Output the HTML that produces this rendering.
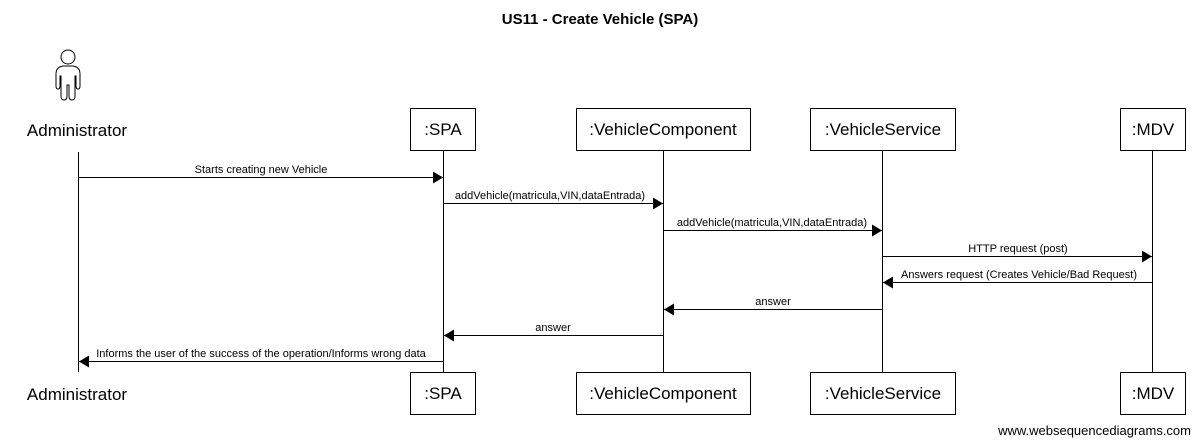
<!DOCTYPE html>
<html><head><meta charset="utf-8"><style>body{margin:0;background:#fff}svg{display:block}</style></head>
<body>
<svg width="1200" height="444" viewBox="0 0 1200 444" xmlns="http://www.w3.org/2000/svg" font-family="Liberation Sans, Arial, sans-serif">
<defs><marker id="a" markerWidth="10" markerHeight="12" refX="10" refY="6" orient="auto" markerUnits="userSpaceOnUse"><path d="M0,0 L10,6 L0,12 z" fill="#000"/></marker></defs>
<text x="600" y="24" text-anchor="middle" font-weight="bold" font-size="15">US11 - Create Vehicle (SPA)</text>
<!-- actor -->
<g fill="none" stroke="#000" stroke-width="1" transform="translate(0,-10)">
<circle cx="68" cy="67" r="7"/>
<path d="M63,76 L73,76 Q80,77 80,84 L80,96 Q80,99 78,99 Q76,99 76,96 L76,86 L75,86 L75,106 Q75,110 72,110 Q69,110 69,106 L69,95 L67,95 L67,106 Q67,110 64,110 Q61,110 61,106 L61,86 L60,86 L60,96 Q60,99 58,99 Q56,99 56,96 L56,84 Q56,77 63,76 z"/>
</g>
<text x="77" y="136" text-anchor="middle" font-size="17">Administrator</text>
<text x="77" y="400" text-anchor="middle" font-size="17">Administrator</text>
<!-- lifelines -->
<g stroke="#000" stroke-width="1">
<line x1="78.5" y1="152" x2="78.5" y2="372"/>
<line x1="443.5" y1="151" x2="443.5" y2="372"/>
<line x1="663.5" y1="151" x2="663.5" y2="372"/>
<line x1="882.5" y1="151" x2="882.5" y2="372"/>
<line x1="1152.5" y1="151" x2="1152.5" y2="372"/>
</g>
<!-- boxes -->
<g fill="#fff" stroke="#000" stroke-width="1">
<rect x="410.5" y="108.5" width="65" height="42"/>
<rect x="576.5" y="108.5" width="174" height="42"/>
<rect x="810.5" y="108.5" width="145" height="42"/>
<rect x="1120.5" y="108.5" width="65" height="42"/>
<rect x="410.5" y="372.5" width="65" height="42"/>
<rect x="576.5" y="372.5" width="174" height="42"/>
<rect x="810.5" y="372.5" width="145" height="42"/>
<rect x="1120.5" y="372.5" width="65" height="42"/>
</g>
<g font-size="17" text-anchor="middle">
<text x="443" y="135">:SPA</text><text x="663" y="135">:VehicleComponent</text><text x="883" y="135">:VehicleService</text><text x="1153" y="135">:MDV</text>
<text x="443" y="399">:SPA</text><text x="663" y="399">:VehicleComponent</text><text x="883" y="399">:VehicleService</text><text x="1153" y="399">:MDV</text>
</g>
<!-- messages -->
<g stroke="#000" stroke-width="1" marker-end="url(#a)">
<line x1="79" y1="177.5" x2="443" y2="177.5"/>
<line x1="444" y1="203.5" x2="663" y2="203.5"/>
<line x1="664" y1="230.5" x2="882" y2="230.5"/>
<line x1="883" y1="256.5" x2="1152" y2="256.5"/>
<line x1="1152" y1="282.5" x2="883" y2="282.5"/>
<line x1="882" y1="309.5" x2="664" y2="309.5"/>
<line x1="663" y1="335.5" x2="444" y2="335.5"/>
<line x1="443" y1="361.5" x2="79" y2="361.5"/>
</g>
<g font-size="11" text-anchor="middle">
<text x="261" y="173">Starts creating new Vehicle</text>
<text x="550" y="199">addVehicle(matricula,VIN,dataEntrada)</text>
<text x="772" y="226">addVehicle(matricula,VIN,dataEntrada)</text>
<text x="1018" y="252">HTTP request (post)</text>
<text x="1019" y="278">Answers request (Creates Vehicle/Bad Request)</text>
<text x="773" y="305">answer</text>
<text x="553" y="331">answer</text>
<text x="261" y="357">Informs the user of the success of the operation/Informs wrong data</text>
</g>
<text x="1191" y="435" text-anchor="end" font-size="13">www.websequencediagrams.com</text>
</svg>
</body></html>
